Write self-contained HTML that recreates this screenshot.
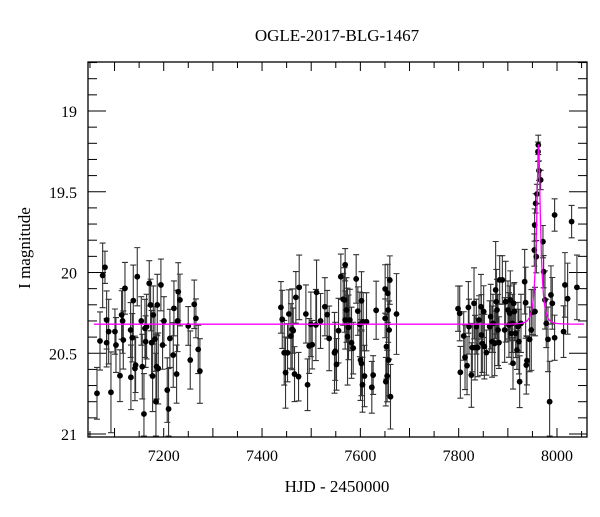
<!DOCTYPE html>
<html><head><meta charset="utf-8"><style>
body{margin:0;background:#fff}
svg text{font-family:"Liberation Serif",serif;fill:#000}
</style></head><body>
<svg id="chart" width="600" height="512" xmlns="http://www.w3.org/2000/svg">
<text x="337" y="41" font-size="17" text-anchor="middle">OGLE-2017-BLG-1467</text>
<text x="337" y="492" font-size="17" text-anchor="middle">HJD - 2450000</text>
<text transform="translate(30,248) rotate(-90)" font-size="17" text-anchor="middle">I magnitude</text>
<g id="marks"></g>
<rect x="88" y="62" width="499" height="375" fill="none" stroke="#000" stroke-width="1.3"/>
</svg>
<script>
const hjd=[7064.3,7070.4,7075.8,7080.5,7083.9,7083.9,7088.0,7092.7,7100.8,7102.9,7111.0,7114.4,7116.4,7117.8,7121.2,7132.7,7133.3,7136.1,7138.1,7141.5,7142.8,7146.2,7154.4,7156.4,7159.8,7161.8,7163.2,7165.2,7170.6,7173.3,7175.4,7177.4,7178.8,7182.1,7184.2,7185.5,7186.9,7188.9,7194.3,7197.7,7200.4,7207.2,7209.9,7212.6,7219.4,7220.8,7226.2,7228.2,7229.6,7233.0,7249.9,7254.0,7262.1,7265.5,7270.2,7273.6,
7438.4,7441.1,7445.1,7447.8,7451.9,7454.6,7458.7,7461.4,7463.4,7466.1,7468.8,7474.3,7475.6,7489.2,7492.6,7495.9,7499.3,7502.0,7509.5,7510.9,7519.0,7527.8,7532.5,7536.6,7547.4,7548.8,7551.5,7555.6,7560.3,7565.1,7567.8,7569.1,7569.1,7571.8,7573.9,7575.9,7578.6,7582.0,7585.4,7591.5,7594.9,7598.9,7600.3,7602.3,7602.3,7604.3,7605.7,7608.4,7612.5,7623.3,7626.0,7632.1,7650.4,7650.4,7651.8,7653.1,7654.5,7655.8,7656.5,7657.2,7658.5,7659.9,7661.3,7673.5,
7798.7,7802.1,7803.4,7810.2,7812.9,7817.0,7819.7,7821.0,7825.8,7827.8,7831.2,7833.2,7835.9,7838.6,7841.3,7845.4,7846.1,7848.1,7850.8,7852.2,7856.3,7863.0,7865.1,7867.8,7869.8,7873.2,7875.2,7876.6,7877.9,7880.0,7882.0,7883.4,7888.8,7893.5,7895.5,7900.3,7902.3,7903.7,7905.0,7907.1,7909.1,7910.5,7911.8,7913.2,7915.9,7918.6,7920.6,7922.6,7924.0,7926.7,7934.2,7936.2,7937.5,7938.9,7944.3,7947.7,7951.1,7953.8,7954.5,7955.2,7956.5,7957.9,7959.2,7961.3,7961.9,7963.3,7966.7,7971.4,7972.8,7975.5,7978.2,7981.6,7985.0,7987.7,7990.4,7995.1,7995.1,8013.4,8016.1,8021.6,8029.7,8040.5];
const mag=[20.748,20.424,20.018,19.968,20.294,20.435,20.366,20.742,20.366,20.449,20.639,20.263,20.300,20.418,20.098,20.356,20.649,20.404,20.174,20.594,20.573,20.026,20.300,20.583,20.876,20.346,20.428,20.335,20.067,20.201,20.435,20.641,20.263,20.412,20.800,20.583,20.201,20.594,20.077,20.449,20.300,20.728,20.845,20.408,20.511,20.222,20.629,20.300,20.119,20.170,20.331,20.542,20.197,20.284,20.476,20.610,
20.216,20.290,20.497,20.620,20.497,20.257,20.393,20.352,20.360,20.629,20.154,20.645,20.092,20.257,20.695,20.455,20.321,20.447,20.325,20.123,20.300,20.212,20.261,20.408,20.497,20.488,20.569,20.360,20.026,20.166,20.170,19.952,20.294,20.232,20.397,20.340,20.294,20.435,20.468,20.040,20.239,20.321,20.542,20.175,20.563,20.695,20.305,20.641,20.305,20.711,20.635,20.234,20.102,20.284,20.676,20.459,20.641,20.129,20.232,20.542,20.356,20.047,20.769,20.257,
20.224,20.253,20.618,20.393,20.525,20.577,20.216,20.335,20.635,20.465,20.191,20.465,20.335,20.465,20.294,20.212,20.387,20.439,20.242,20.459,20.496,20.335,20.273,20.428,20.315,20.439,20.108,20.181,20.232,20.356,20.434,20.046,20.046,20.356,20.181,20.232,20.325,20.253,20.170,20.377,20.315,20.562,20.191,20.242,20.377,20.480,20.335,20.428,20.676,20.315,20.057,20.187,20.573,20.546,20.414,20.356,20.245,19.861,19.706,20.242,19.572,19.902,19.514,19.252,19.210,19.369,19.427,19.809,19.995,20.170,20.315,20.414,20.800,20.139,20.191,19.644,20.404,20.366,20.077,20.162,19.685,20.092];
const errBase=[0.16,0.18,0.2,0.22,0.18,0.15,0.2,0.25,0.14,0.17,0.16,0.15,0.2,0.18,0.16,0.17,0.2,0.15,0.22,0.2,0.17,0.18,0.15,0.2,0.25,0.18,0.16,0.2,0.14,0.16,0.2,0.22,0.18,0.2,0.3,0.2,0.19,0.22,0.16,0.15,0.15,0.2,0.25,0.18,0.2,0.17,0.18,0.19,0.18,0.16,0.12,0.18,0.15,0.12,0.15,0.2];
const err=[];
for(let i=0;i<hjd.length;i++){const m=mag[i];let e=errBase[i%errBase.length];if(m<19.6)e=0.06;else if(m<20.0)e=0.1;err.push(e);}
const baseline=20.32, t0=7962.5, tE=9, u0=0.3, fs=0.73;
const xTicks=[7200,7400,7600,7800,8000];
const yTicks=[19,19.5,20,20.5,21];

const X=v=>88+(v-7046)*(499/1015);
const Y=v=>111+(v-19)*161.5;
const NS="http://www.w3.org/2000/svg";
const g=document.getElementById('marks');
const svg=document.getElementById('chart');
function mk(tag,attrs,parent){const e=document.createElementNS(NS,tag);for(const k in attrs)e.setAttribute(k,attrs[k]);(parent||g).appendChild(e);return e;}
// ticks
for(let t=7050;t<=8050;t+=50){const x=X(t);const major=(t%100===0);const L=major?9:6;
 const a=mk('line',{x1:x,y1:437,x2:x,y2:437-L,stroke:'#000','stroke-width':1});
 
 
 const b=mk('line',{x1:x,y1:62,x2:x,y2:62+L,stroke:'#000','stroke-width':1});
 
 }
for(let k=187;k<=210;k++){const v=k/10;const y=Y(v);if(y<62||y>437)continue;const major=(k%5===0);const L=major?18:9;
 const a=mk('line',{x1:88,y1:y,x2:88+L,y2:y,stroke:'#000','stroke-width':1});
 
 
 const b=mk('line',{x1:587,y1:y,x2:587-L,y2:y,stroke:'#000','stroke-width':1});
 
 }
xTicks.forEach(t=>{const e=mk('text',{x:X(t),y:461,'font-size':16,'text-anchor':'middle'},svg);e.textContent=t;
 
 });
yTicks.forEach(t=>{const e=mk('text',{x:77,y:Y(t)+6,'font-size':16,'text-anchor':'end'},svg);e.textContent=t;
 
 });
// error bars and points
for(let i=0;i<hjd.length;i++){const x=X(hjd[i]),y=Y(mag[i]);
 let y1=Y(mag[i]-err[i]),y2=Math.min(Y(mag[i]+err[i]),436);
 const l=mk('path',{d:`M${x},${y1}V${y2}M${x-3},${y1}H${x+3}M${x-3},${y2}H${x+3}`,stroke:'#333','stroke-width':1.1,fill:'none'});
 
 
}
for(let i=0;i<hjd.length;i++){
 const c=mk('circle',{cx:X(hjd[i]),cy:Y(mag[i]),r:2.9,fill:'#000'});
 
 
}
// model
let d='';
for(let t=7058;t<=8055;t+=0.5){const u=Math.sqrt(u0*u0+((t-t0)/tE)**2);const A=(u*u+2)/(u*Math.sqrt(u*u+4));
 const m=baseline-2.5*Math.log10(1+fs*(A-1));d+=(d?'L':'M')+X(t).toFixed(2)+','+Y(m).toFixed(2);}
const p=mk('path',{d:d,stroke:'#ff00ff','stroke-width':1.3,fill:'none'});


</script>
</body></html>
